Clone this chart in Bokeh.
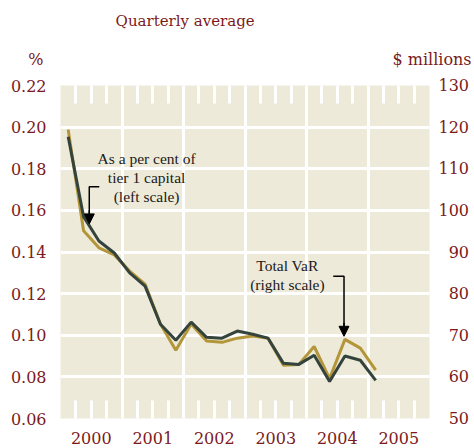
from bokeh.plotting import figure
from bokeh.layouts import column
from bokeh.models import (LinearAxis, Range1d, FixedTicker, Label, Arrow,
                          NormalHead, ColumnDataSource)
from bokeh.core.properties import value
from bokeh.embed import file_html
from bokeh.resources import INLINE

# ---- data (quarterly averages, 2000Q1 .. 2005Q1) ----
quarters = ["2000Q1", "2000Q2", "2000Q3", "2000Q4",
            "2001Q1", "2001Q2", "2001Q3", "2001Q4",
            "2002Q1", "2002Q2", "2002Q3", "2002Q4",
            "2003Q1", "2003Q2", "2003Q3", "2003Q4",
            "2004Q1", "2004Q2", "2004Q3", "2004Q4",
            "2005Q1"]
tier1_pct = [0.1954, 0.157, 0.1453, 0.1395, 0.130, 0.1236, 0.1053, 0.0976,
             0.1063, 0.099, 0.0986, 0.102, 0.1005, 0.0986, 0.0865, 0.086,
             0.0904, 0.0778, 0.090, 0.088, 0.0783]
total_var = [119.4, 95.1, 91.0, 89.3, 85.4, 82.3, 72.7, 66.4,
             72.7, 68.6, 68.3, 69.3, 69.8, 69.3, 62.8, 63.0,
             67.3, 59.6, 69.0, 66.9, 61.6]
years = [2000, 2001, 2002, 2003, 2004, 2005]
left_ticks = [0.06, 0.08, 0.10, 0.12, 0.14, 0.16, 0.18, 0.20, 0.22]
right_ticks = [50, 60, 70, 80, 90, 100, 110, 120, 130]
title_text = "Quarterly average"
left_unit = "%"
right_unit = "$ millions"

# quarter mid-points as decimal years
xq = [int(q[:4]) + (int(q[-1]) - 0.5) / 4 for q in quarters]

RED = "#7b1a1c"
DARK = "#34433c"
GOLD = "#b3963a"
BG = "#eeead9"
SERIF = "DejaVu Serif"
ANN = "Liberation Serif"

W = 474
BL, BR = 60, 41          # left / right borders of the plotting frame
HEAD_H = 70

# ---- header (its frame is aligned with the chart's frame) ----
header = figure(width=W, height=HEAD_H, output_backend="svg", toolbar_location=None,
                x_range=Range1d(BL, W - BR), y_range=Range1d(HEAD_H, 0),
                min_border_left=BL, min_border_right=BR, min_border_top=0,
                min_border_bottom=0, x_axis_location=None, y_axis_location=None)
header.grid.visible = False
header.outline_line_color = None
header.background_fill_color = "white"
header.text(x=[186], y=[20], text=[title_text], text_font=value(SERIF),
            text_font_size="15px", text_color=RED, text_align="center",
            text_baseline="middle")


def unit_axis(text, standoff):
    ax = LinearAxis(ticker=FixedTicker(ticks=[59]))
    ax.major_label_overrides = {59: text}
    ax.axis_line_color = None
    ax.major_tick_line_color = None
    ax.minor_tick_line_color = None
    ax.major_tick_out = 0
    ax.major_tick_in = 0
    ax.minor_tick_out = 0
    ax.minor_tick_in = 0
    ax.major_label_text_font = SERIF
    ax.major_label_text_font_size = "16px"
    ax.major_label_text_color = RED
    ax.major_label_standoff = standoff
    return ax


header.add_layout(unit_axis(left_unit, 17), "left")
header.add_layout(unit_axis(right_unit, -37), "right")

# ---- main chart ----
p = figure(width=W, height=448 - HEAD_H, output_backend="svg", toolbar_location=None,
           x_range=Range1d(2000, 2006), y_range=Range1d(0.06, 0.22),
           min_border_left=BL, min_border_right=BR, min_border_top=15,
           min_border_bottom=30, x_axis_location=None, y_axis_location=None)
p.extra_y_ranges = {"var": Range1d(50, 130)}
p.background_fill_color = BG
p.border_fill_color = "white"
p.outline_line_color = None

# quarter tick marks (major at mid-year for the labels, minor at other quarters)
qt_major = [y + 0.5 for y in years]
qt_minor = [y + f for y in years for f in (0.25, 0.75)]


def style_x(ax, labels=True):
    ax.ticker = FixedTicker(ticks=qt_major, minor_ticks=qt_minor)
    ax.axis_line_color = None
    ax.major_tick_in = 18
    ax.major_tick_out = 0
    ax.minor_tick_in = 18
    ax.minor_tick_out = 0
    ax.major_tick_line_color = "white"
    ax.minor_tick_line_color = "white"
    ax.major_tick_line_width = 3
    ax.minor_tick_line_width = 3
    ax.major_label_overrides = {t: str(y) for t, y in zip(qt_major, years)}
    ax.major_label_text_font = SERIF
    ax.major_label_text_font_size = "16px"
    ax.major_label_text_color = RED
    ax.major_label_standoff = 13
    if not labels:
        ax.major_label_text_alpha = 0
        ax.major_label_text_font_size = "1px"
        ax.major_label_standoff = 0


xb = LinearAxis()
style_x(xb)
p.add_layout(xb, "below")
xa = LinearAxis()
style_x(xa, labels=False)
p.add_layout(xa, "above")


def style_y(ax, standoff):
    ax.axis_line_color = None
    ax.major_tick_line_color = None
    ax.minor_tick_line_color = None
    ax.major_tick_out = 0
    ax.major_tick_in = 0
    ax.minor_tick_out = 0
    ax.minor_tick_in = 0
    ax.major_label_text_font = SERIF
    ax.major_label_text_font_size = "16px"
    ax.major_label_text_color = RED
    ax.major_label_standoff = standoff


yl = LinearAxis(ticker=FixedTicker(ticks=left_ticks))
yl.major_label_overrides = {t: f"{t:.2f}" for t in left_ticks}
style_y(yl, 14)
p.add_layout(yl, "left")

yr = LinearAxis(y_range_name="var", ticker=FixedTicker(ticks=right_ticks))
yr.major_label_overrides = {t: (str(t) if t >= 100 else "\u2007" + str(t))
                            for t in right_ticks}
style_y(yr, 9)
p.add_layout(yr, "right")

# grids
p.xgrid.ticker = FixedTicker(ticks=years[1:])
p.ygrid.ticker = FixedTicker(ticks=left_ticks[1:-1])
for g in (p.xgrid, p.ygrid):
    g.grid_line_color = "white"
    g.grid_line_width = 3

src = ColumnDataSource(dict(x=xq, t=tier1_pct, v=total_var))
p.line("x", "v", source=src, y_range_name="var", line_color=GOLD, line_width=3)
p.line("x", "t", source=src, line_color=DARK, line_width=3)

# ---- annotations ----
ann1_lines = ["As a per cent of", "tier 1 capital", "(left scale)"]
ann1_y = [0.1848, 0.1757, 0.1665]
for txt, yy in zip(ann1_lines, ann1_y):
    p.add_layout(Label(x=2001.40, y=yy, text=txt, text_font=ANN,
                       text_font_size="15.5px", text_color="#1a1a1a",
                       text_align="center", text_baseline="middle"))
p.line([2000.63, 2000.468, 2000.468], [0.1713, 0.1713, 0.158],
       line_color="black", line_width=1.5)
p.add_layout(Arrow(end=NormalHead(size=10, fill_color="black", line_color="black"),
                   x_start=2000.468, y_start=0.160, x_end=2000.468, y_end=0.1535,
                   line_color="black", line_width=1.5))

ann2_lines = ["Total VaR", "(right scale)"]
ann2_y = [0.1333, 0.1246]
for txt, yy in zip(ann2_lines, ann2_y):
    p.add_layout(Label(x=2003.69, y=yy, text=txt, text_font=ANN,
                       text_font_size="15.5px", text_color="#1a1a1a",
                       text_align="center", text_baseline="middle"))
p.line([2004.435, 2004.61, 2004.61], [0.1284, 0.1284, 0.104],
       line_color="black", line_width=1.5)
p.add_layout(Arrow(end=NormalHead(size=10, fill_color="black", line_color="black"),
                   x_start=2004.61, y_start=0.106, x_end=2004.61, y_end=0.0995,
                   line_color="black", line_width=1.5))

layout = column(header, p, spacing=0)
open("out.html", "w").write(file_html(layout, INLINE))
